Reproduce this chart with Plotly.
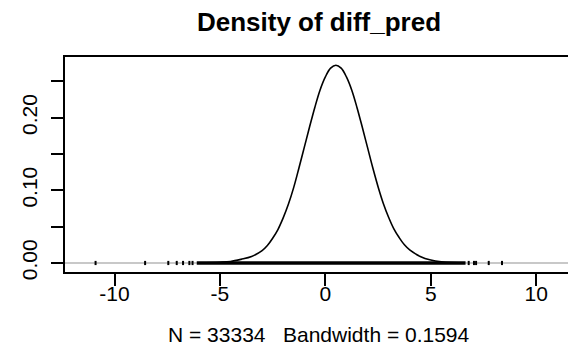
import plotly.graph_objects as go

# Density curve
dens_x = [-11.4, -6.0, -5.0, -4.5, -4.0, -3.5, -3.0, -2.75, -2.5, -2.25, -2.0, -1.75,
          -1.5, -1.25, -1.0, -0.75, -0.5, -0.25, 0.0, 0.25, 0.5, 0.75, 1.0, 1.25,
          1.5, 1.75, 2.0, 2.25, 2.5, 2.75, 3.0, 3.25, 3.5, 3.75, 4.0, 4.5, 5.0,
          5.5, 6.0, 9.0]
dens_y = [0.0, 0.0003, 0.001, 0.002, 0.005, 0.009, 0.017, 0.024, 0.034, 0.046, 0.062, 0.081,
          0.104, 0.131, 0.159, 0.187, 0.214, 0.238, 0.256, 0.268, 0.272, 0.268, 0.256, 0.238,
          0.214, 0.187, 0.159, 0.131, 0.105, 0.082, 0.063, 0.047, 0.035, 0.025, 0.018, 0.009, 0.004,
          0.0015, 0.0005, 0.0]

# Rug: isolated observations and the densely covered span
rug_sparse = [-10.9, -8.55, -7.45, -7.05, -6.75, -6.45, -6.3, 6.8, 7.05, 7.15, 7.75, 8.38]
rug_dense = [-6.1, 6.65]

x_ticks = [-10, -5, 0, 5, 10]
x_tick_text = ["-10", "-5", "0", "5", "10"]
y_ticks = [0.0, 0.05, 0.10, 0.15, 0.20, 0.25]
y_tick_text = ["0.00", "", "0.10", "", "0.20", ""]

x_range = [-12.35, 11.7]
y_range = [-0.0124, 0.2834]

title_text = "Density of diff_pred"
sub_text = "N = 33334\u00a0\u00a0\u00a0Bandwidth = 0.1594"

FONT = "Liberation Sans, Arial, sans-serif"

fig = go.Figure()
# density curve
fig.add_trace(go.Scatter(x=dens_x, y=dens_y, mode="lines", line_shape="spline",
                         line=dict(color="black", width=1.6), hoverinfo="skip"))
# zero line drawn over the curve (as in R's plot.density)
fig.add_trace(go.Scatter(x=x_range, y=[0, 0], mode="lines",
                         line=dict(color="#c8c8c8", width=2.2), hoverinfo="skip"))
# rug
fig.add_trace(go.Scatter(x=rug_dense, y=[0, 0], mode="lines",
                         line=dict(color="black", width=3.5), hoverinfo="skip"))
fig.add_trace(go.Scatter(x=rug_sparse, y=[0] * len(rug_sparse), mode="markers",
                         marker=dict(symbol="line-ns", size=3,
                                     line=dict(color="black", width=2)),
                         hoverinfo="skip"))

fig.update_layout(
    width=576, height=351,
    margin=dict(l=56, r=10, t=49, b=87),
    paper_bgcolor="white", plot_bgcolor="white",
    showlegend=False,
    font=dict(family=FONT, size=21, color="black"),
    title=dict(text="<b>" + title_text + "</b>", x=311 / 576, xanchor="center",
               y=1 - 5 / 351, yanchor="top", yref="container",
               font=dict(family=FONT, size=26, color="black")),
    annotations=[dict(text=sub_text, xref="paper", yref="paper", x=0.5,
                      y=-0.29, xanchor="center", yanchor="middle",
                      showarrow=False, font=dict(family=FONT, size=21, color="black"))],
)
fig.update_xaxes(range=x_range, tickvals=x_ticks, ticktext=x_tick_text, ticks="outside",
                 ticklen=12, tickwidth=1.5, tickcolor="black", showline=True,
                 linecolor="black", linewidth=1.5, mirror=True, showgrid=False,
                 zeroline=False, tickfont=dict(size=21), ticklabelstandoff=-10)
fig.update_yaxes(range=y_range, tickvals=y_ticks, ticktext=y_tick_text, ticks="outside",
                 ticklen=12, tickwidth=1.5, tickcolor="black", showline=True,
                 linecolor="black", linewidth=1.5, mirror=True, showgrid=False,
                 zeroline=False, tickangle=-90, tickfont=dict(size=21),
                 ticklabelstandoff=6)

fig.write_html("out.html")
